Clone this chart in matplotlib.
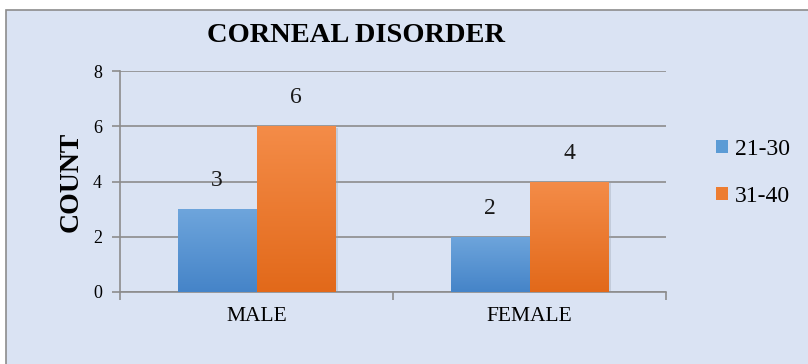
import matplotlib
matplotlib.use("Agg")
import matplotlib.pyplot as plt
import numpy as np
from matplotlib.patches import Rectangle, Patch
from matplotlib.colors import LinearSegmentedColormap

categories = ["MALE", "FEMALE"]
series_names = ["21-30", "31-40"]
values_21_30 = [3, 2]
values_31_40 = [6, 4]
yticks = [0, 2, 4, 6, 8]

plt.rcParams['font.family'] = ['Liberation Serif', 'DejaVu Serif']

W, H = 808, 364
fig = plt.figure(figsize=(W/100, H/100), dpi=100)
fig.patch.set_facecolor('white')
bg = '#DAE3F3'
frame = Rectangle((6/W, -0.01), 1.0, 1.01 - 10/H, transform=fig.transFigure,
                  facecolor=bg, edgecolor='#8c8c8c', linewidth=1.2, zorder=-5)
fig.patches.append(frame)

ax = fig.add_axes([120/W, 72/H, 546/W, 221/H], zorder=2)
ax.set_facecolor('none')

x = np.arange(len(categories))
bw = 0.289
grads = [LinearSegmentedColormap.from_list('b', ['#4584C8', '#6EA5DC']),
         LinearSegmentedColormap.from_list('o', ['#E2691A', '#F48C48'])]
grad = np.linspace(0, 1, 256).reshape(-1, 1)
for i, (vals, cm) in enumerate(zip([values_21_30, values_31_40], grads)):
    offs = (i - 0.5) * bw
    bars = ax.bar(x + offs, vals, bw, color='none', edgecolor='none', zorder=3)
    for b, v in zip(bars, vals):
        bx, by = b.get_x(), b.get_y()
        ax.add_patch(Rectangle((bx + 0.008, by - 0.06), b.get_width(), b.get_height(),
                               facecolor='#9aa3b0', alpha=0.35, edgecolor='none', zorder=2.5))
        im = ax.imshow(grad, extent=[bx, bx + b.get_width(), by, by + b.get_height()],
                       origin='lower', cmap=cm, aspect='auto', zorder=3)
        im.set_clip_path(b)
        ax.text(b.get_x() + b.get_width()/2, v + 1.03, str(v), ha='center', va='center',
                fontsize=17, color='#1a1a1a', zorder=4)

ax.set_xlim(-0.5, 1.5)
ax.set_ylim(0, 8)
ax.set_yticks(yticks)
ax.set_yticklabels([str(t) for t in yticks], fontsize=13)
ax.grid(axis='y', color='#8c8c8c', linewidth=1.2, zorder=1)
ax.set_axisbelow(True)
for s in ['top', 'right']:
    ax.spines[s].set_visible(False)
for s in ['left', 'bottom']:
    ax.spines[s].set_color('#8c8c8c')
    ax.spines[s].set_linewidth(1.2)
ax.tick_params(axis='y', length=6, color='#8c8c8c', width=1.2, pad=7)
ax.set_xticks([-0.5, 0.5, 1.5])
ax.set_xticklabels([])
ax.tick_params(axis='x', length=6, color='#8c8c8c', width=1.2)
for xi, c in zip(x, categories):
    ax.text(xi, -0.87, c, ha='center', va='center', fontsize=15.5, transform=ax.transData)

ax.set_ylabel('COUNT', fontsize=20, fontweight='bold', labelpad=7)
fig.text(356/W, 1 - 35/H, 'CORNEAL DISORDER', ha='center', va='center',
         fontsize=20.5, fontweight='bold')

handles = [Patch(facecolor='#5B9BD5'), Patch(facecolor='#ED7D31')]
leg = fig.legend(handles, series_names, loc='center left', bbox_to_anchor=(695/W, 1 - 173/H),
                 frameon=False, fontsize=17, handlelength=0.5, handleheight=0.5,
                 handletextpad=0.3, labelspacing=1.1)

fig.savefig('out.png', dpi=100, facecolor='white')
